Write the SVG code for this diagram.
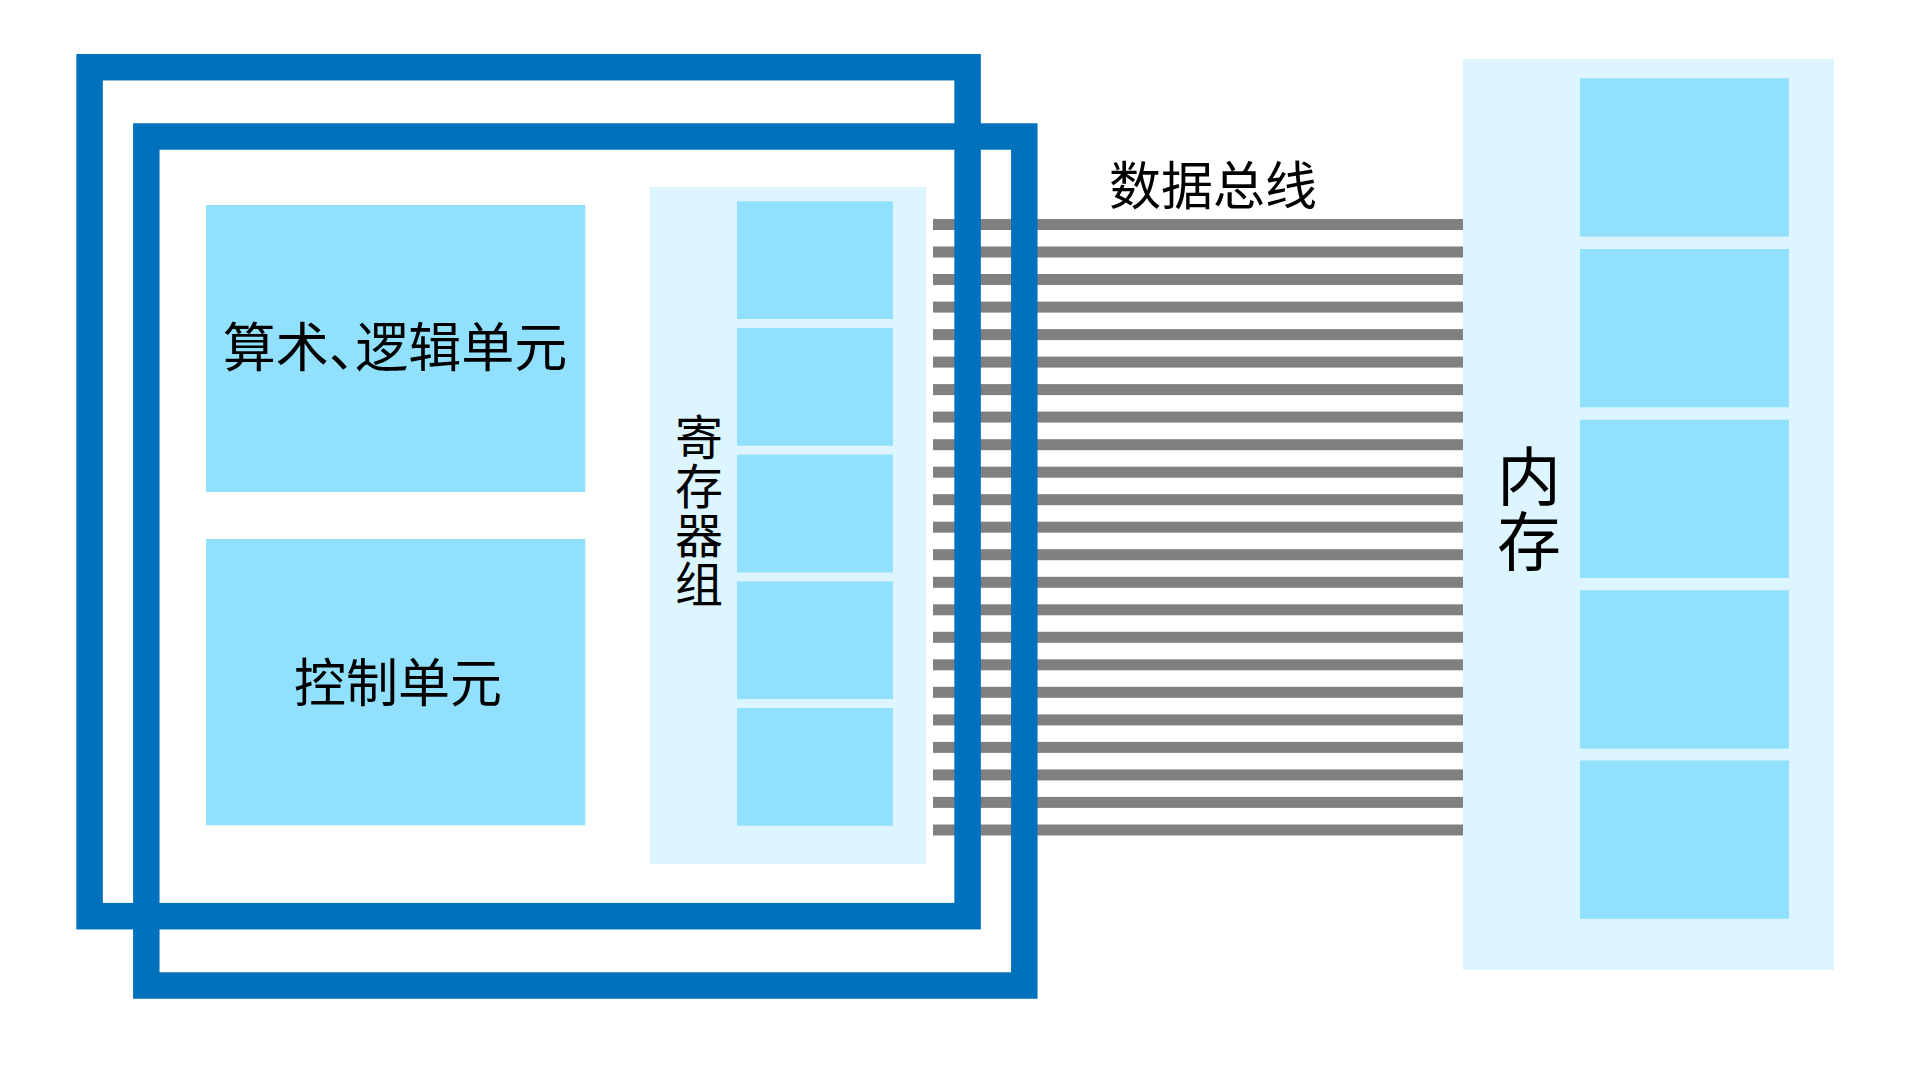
<svg xmlns="http://www.w3.org/2000/svg" width="1920" height="1080" viewBox="0 0 1920 1080">
  <style>
    .frame { fill: none; stroke: #0071BC; stroke-width: 26.5; }
    .panel { fill: #DDF5FE; }
    .cell { fill: #91E0FD; }
    .bus { fill: #808080; }
    .lbl { font-family: "Noto Sans CJK SC", "Noto Sans", sans-serif; fill: #000000; text-anchor: middle; dominant-baseline: central; }
    .halt { font-feature-settings: "halt" 1; }
  </style>
  <rect x="0" y="0" width="1920" height="1080" fill="#FFFFFF"/>

  <g id="registers">
    <rect class="panel" x="650" y="187" width="276" height="677"/>
    <rect class="cell" x="737" y="201.3" width="156" height="117.7"/>
    <rect class="cell" x="737" y="328" width="156" height="117.7"/>
    <rect class="cell" x="737" y="454.7" width="156" height="117.7"/>
    <rect class="cell" x="737" y="581.4" width="156" height="117.7"/>
    <rect class="cell" x="737" y="708" width="156" height="117.7"/>
    <text class="lbl" font-size="48" x="699" y="434">寄</text>
    <text class="lbl" font-size="48" x="699" y="483">存</text>
    <text class="lbl" font-size="48" x="699" y="532">器</text>
    <text class="lbl" font-size="48" x="699" y="581">组</text>
  </g>

  <g id="memory">
    <rect class="panel" x="1463" y="59" width="371" height="911"/>
    <rect class="cell" x="1580" y="78.3" width="209" height="158.3"/>
    <rect class="cell" x="1580" y="249" width="209" height="158.3"/>
    <rect class="cell" x="1580" y="419.7" width="209" height="158.3"/>
    <rect class="cell" x="1580" y="590.4" width="209" height="158.3"/>
    <rect class="cell" x="1580" y="760.5" width="209" height="158.3"/>
    <text class="lbl" font-size="64" x="1529" y="472">内</text>
    <text class="lbl" font-size="64" x="1529" y="537">存</text>
  </g>

  <g id="connectors">
    <rect class="bus" x="933" y="219" width="530" height="11"/>
    <rect class="bus" x="933" y="246.5" width="530" height="11"/>
    <rect class="bus" x="933" y="274" width="530" height="11"/>
    <rect class="bus" x="933" y="301.6" width="530" height="11"/>
    <rect class="bus" x="933" y="329.1" width="530" height="11"/>
    <rect class="bus" x="933" y="356.6" width="530" height="11"/>
    <rect class="bus" x="933" y="384.1" width="530" height="11"/>
    <rect class="bus" x="933" y="411.6" width="530" height="11"/>
    <rect class="bus" x="933" y="439.2" width="530" height="11"/>
    <rect class="bus" x="933" y="466.7" width="530" height="11"/>
    <rect class="bus" x="933" y="494.2" width="530" height="11"/>
    <rect class="bus" x="933" y="521.7" width="530" height="11"/>
    <rect class="bus" x="933" y="549.2" width="530" height="11"/>
    <rect class="bus" x="933" y="576.8" width="530" height="11"/>
    <rect class="bus" x="933" y="604.3" width="530" height="11"/>
    <rect class="bus" x="933" y="631.8" width="530" height="11"/>
    <rect class="bus" x="933" y="659.3" width="530" height="11"/>
    <rect class="bus" x="933" y="686.8" width="530" height="11"/>
    <rect class="bus" x="933" y="714.4" width="530" height="11"/>
    <rect class="bus" x="933" y="741.9" width="530" height="11"/>
    <rect class="bus" x="933" y="769.4" width="530" height="11"/>
    <rect class="bus" x="933" y="796.9" width="530" height="11"/>
    <rect class="bus" x="933" y="824.5" width="530" height="11"/>
  </g>

  <g id="bus-label">
    <text class="lbl" font-size="52" x="1213" y="182">数据总线</text>
  </g>

  <g id="cpu-frame-1">
    <rect class="frame" x="89.6" y="67.2" width="878" height="849"/>
  </g>
  <g id="cpu-frame-2">
    <rect class="frame" x="146.3" y="136.5" width="878" height="849"/>
  </g>

  <g id="alu">
    <rect class="cell" x="206" y="205" width="379.3" height="287"/>
    <text class="lbl halt" font-size="53" x="395" y="344">算术、逻辑单元</text>
  </g>

  <g id="control">
    <rect class="cell" x="206" y="539" width="379.3" height="286.3"/>
    <text class="lbl" font-size="52" x="398" y="679">控制单元</text>
  </g>
</svg>
